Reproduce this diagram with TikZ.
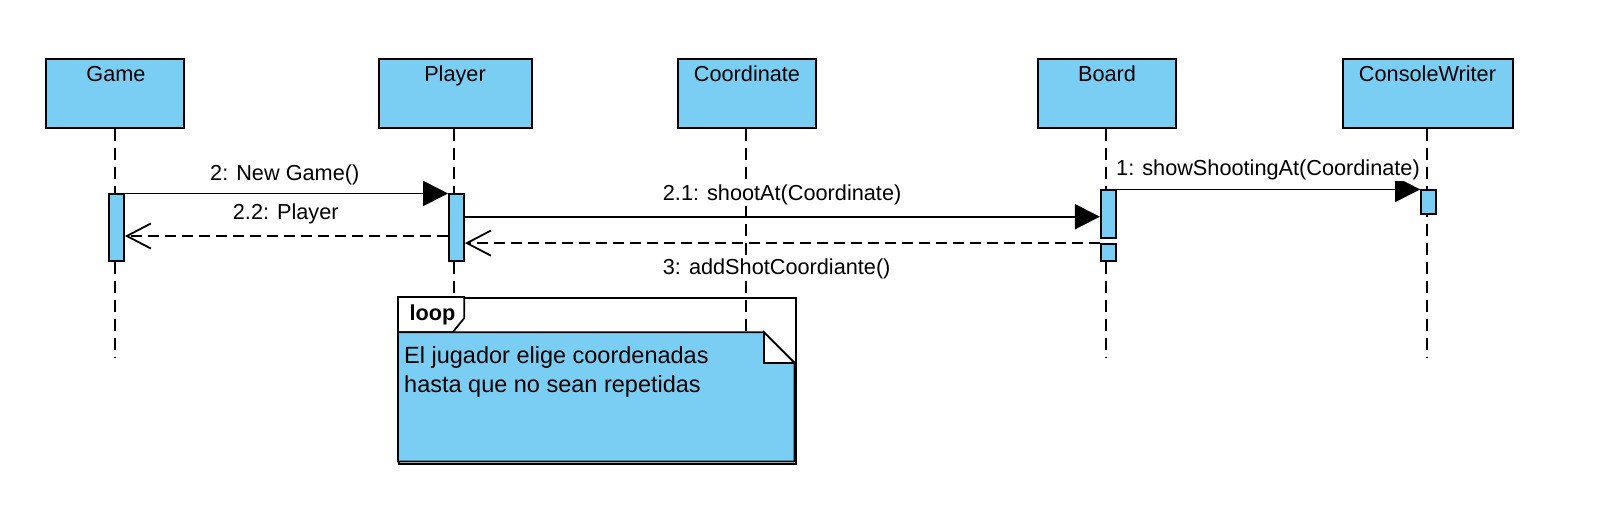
\documentclass[tikz,border=0pt]{standalone}
\usepackage{fontspec}
\setmainfont{Liberation Sans}
\usetikzlibrary{arrows.meta}
\definecolor{blu}{RGB}{122,206,243}
\newcommand\lbfont{\fontsize{21.7pt}{26pt}\selectfont}
\newcommand\ntfont{\fontsize{23.5pt}{28pt}\selectfont}
\tikzset{
  objbox/.style={draw=black, line width=2pt, fill=blu, inner sep=0pt, minimum height=69pt, minimum width=#1},
  actbox/.style={draw=black, line width=1.8pt, fill=blu, inner sep=0pt, minimum width=15pt, minimum height=#1},
  lifeline/.style={line width=1.8pt, dash pattern=on 12pt off 7pt},
  callmsg/.style={line width=1.8pt, -{Triangle[length=25pt,width=25pt]}},
  retmsg/.style={line width=1.8pt, dash pattern=on 11pt off 6pt, -{Straight Barb[length=24pt,width=25pt]}},
  lbl/.style={font=\lbfont, fill=white, inner xsep=0pt, inner ysep=1pt, anchor=base west},
  objname/.style={font=\lbfont, inner sep=0pt, anchor=base},
  notetext/.style={font=\ntfont, inner sep=0pt, anchor=base west},
}
\begin{document}
\begin{tikzpicture}[x=1pt, y=-1pt]
\useasboundingbox (0,0) rectangle (1614,504);

% objects
\node[objbox=138] (game) at (115,93.2) {};
\node[objbox=153] (player) at (455,93.2) {};
\node[objbox=138] (coord) at (747,93.2) {};
\node[objbox=138] (board) at (1107,93.2) {};
\node[objbox=170] (cw) at (1427.5,93.2) {};
\node[objname] (gameT) at (116,81.7) {Game};
\node[objname] (playerT) at (455,81.7) {Player};
\node[objname] (coordT) at (747,81.7) {Coordinate};
\node[objname] (boardT) at (1107,81.7) {Board};
\node[objname] (cwT) at (1427.5,81.7) {ConsoleWriter};

% lifelines
\draw[lifeline] (game.south -| 115,0) -- (115,358);
\draw[lifeline] (player.south -| 454,0) -- (454,358);
\draw[lifeline] (coord.south -| 746,0) -- (746,358);
\draw[lifeline] (board.south -| 1106,0) -- (1106,358);
\draw[lifeline] (cw.south -| 1427,0) -- (1427,358);

% loop frame
\node[draw=black, line width=1.8pt, inner sep=0pt, minimum width=397pt, minimum height=166pt, anchor=north west] (loopf) at (398,297) {};

% activations
\node[actbox=66.7] (gA) at (116.5,227.7) {};
\node[actbox=66.7] (pA) at (456.5,227.7) {};
\node[actbox=47.7] (bA) at (1108.3,214.15) {};
\node[actbox=17] (bB) at (1108.3,252.5) {};
\node[actbox=24] (cA) at (1428.6,202.3) {};

% messages
\coordinate (y21) at (0,216.7);
\coordinate (y22) at (0,236);
\draw[callmsg] (bA.north east) -- (cA.north west);
\draw[callmsg] (gA.north east) -- (pA.north west);
\draw[callmsg] (pA.east |- y21) -- (bA.west |- y21);
\draw[retmsg] (pA.west |- y22) -- (gA.east |- y22);
\draw[retmsg] (bB.north west) -- (pA.east |- bB.north);

\node[lbl] (l1) at (1116,175) {1: showShootingAt(Coordinate)};
\node[lbl] (l2) at (210,180) {2: New Game()};
\node[lbl] (l21) at (662.7,200.7) {2.1: shootAt(Coordinate)};
\node[lbl] (l22) at (232.7,219) {2.2: Player};
\node[lbl] (l3) at (662.7,274) {3: addShotCoordiante()};

% loop tab
\draw[line width=1.8pt, fill=white] (398,297) -- (464.3,297) -- (464.3,318) -- (452.7,332.3) -- (398,332.3) -- cycle;
\node[lbl, font=\lbfont\bfseries, fill=none] (looptxt) at (409.3,320.7) {loop};

% note
\draw[line width=1.8pt, fill=blu] (398,332.3) -- (764,332.3) -- (794.5,363) -- (794.5,461.5) -- (398,461.5) -- cycle;
\draw[line width=1.8pt, fill=white] (764,332.3) -- (764,363) -- (794.5,363) -- cycle;
\node[notetext] (n1) at (404,363.3) {El jugador elige coordenadas};
\node[notetext] (n2) at (404,392) {hasta que no sean repetidas};
\end{tikzpicture}
\end{document}
